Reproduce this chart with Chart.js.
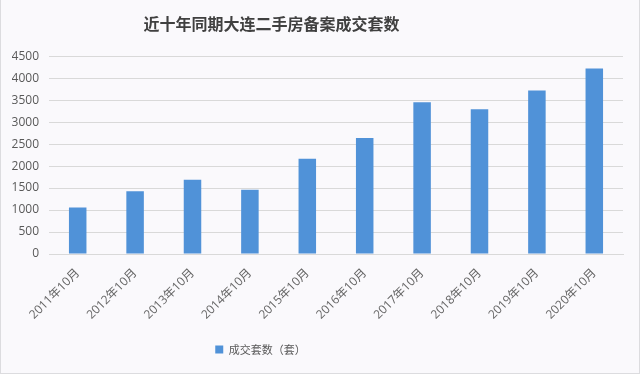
<!DOCTYPE html>
<html>
<head>
<meta charset="utf-8">
<script src="https://cdn.jsdelivr.net/npm/chart.js@4/dist/chart.umd.min.js"></script>
<style>
  html, body { margin: 0; padding: 0; background: #faf9fc; }
  #wrap { position: relative; width: 640px; height: 374px; box-sizing: border-box; border: 1px solid #dcdcdf; border-top: none; background: #faf9fc; }
  canvas { display: block; }
</style>
</head>
<body>
<div id="wrap"><canvas id="c" width="638" height="373"></canvas></div>
<script>
const titleText = '近十年同期大连二手房备案成交套数';
const categories = ['2011年10月','2012年10月','2013年10月','2014年10月','2015年10月','2016年10月','2017年10月','2018年10月','2019年10月','2020年10月'];
const seriesName = '成交套数（套）';
const seriesValues = [1060, 1430, 1690, 1460, 2165, 2640, 3450, 3295, 3720, 4220];
const yTicks = [0, 500, 1000, 1500, 2000, 2500, 3000, 3500, 4000, 4500];

const fontFam = '"Open Sans", "Noto Sans CJK SC", sans-serif';

const shiftPlugin = {
  id: 'shiftBoxes',
  afterLayout(chart) {
    const t = chart.titleBlock;
    if (t) { t.left -= 46; t.right -= 46; }
    const l = chart.legend;
    if (l) { l.left -= 57; l.right -= 57; }
  }
};

new Chart(document.getElementById('c'), {
  type: 'bar',
  data: {
    labels: categories,
    datasets: [{
      label: seriesName,
      data: seriesValues,
      backgroundColor: '#5092d8',
      borderWidth: 0,
      categoryPercentage: 1.0,
      barPercentage: 0.305
    }]
  },
  plugins: [shiftPlugin],
  options: {
    responsive: false,
    animation: false,
    devicePixelRatio: 1,
    layout: { padding: { left: 11, right: 16, top: 0, bottom: 8 } },
    plugins: {
      title: {
        display: true,
        text: titleText,
        color: '#404040',
        font: { family: '"Noto Sans CJK SC", sans-serif', size: 16, weight: 'bold' },
        padding: { top: 14, bottom: 23 }
      },
      legend: {
        display: true,
        position: 'bottom',
        labels: {
          boxWidth: 8,
          boxHeight: 8,
          padding: 10,
          color: '#595959',
          font: { family: '"Noto Sans CJK SC", sans-serif', size: 11 }
        }
      },
      tooltip: { enabled: false }
    },
    scales: {
      x: {
        grid: { display: false, drawTicks: false },
        border: { display: true, color: '#d9d9d9', width: 1 },
        ticks: {
          minRotation: 45,
          maxRotation: 45,
          autoSkip: false,
          color: '#666666',
          padding: 12,
          font: { family: fontFam, size: 12 }
        },
        afterFit(scale) { scale.height = 80; }
      },
      y: {
        min: 0,
        max: 4500,
        afterBuildTicks(scale) { scale.ticks = yTicks.map(v => ({ value: v })); },
        grid: { color: '#d9d9d9', drawTicks: false },
        border: { display: false },
        ticks: {
          color: '#595959',
          padding: 10,
          font: { family: fontFam, size: 12 },
          callback: (v) => String(v)
        },
        afterFit(scale) { scale.width = 37; }
      }
    }
  }
});
</script>
</body>
</html>
